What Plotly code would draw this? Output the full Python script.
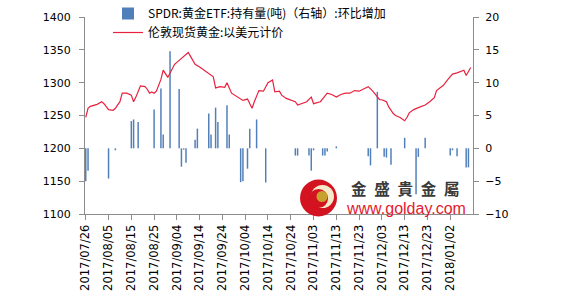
import plotly.graph_objects as go

# ---- data ----
price_dates = ["2017-07-26","2017-07-27","2017-07-28","2017-07-31","2017-08-02","2017-08-03","2017-08-05",
    "2017-08-07","2017-08-08","2017-08-10","2017-08-11","2017-08-13","2017-08-15","2017-08-16","2017-08-17",
    "2017-08-19","2017-08-21","2017-08-22","2017-08-23","2017-08-24","2017-08-25","2017-08-26","2017-08-28",
    "2017-08-29","2017-08-31","2017-09-01","2017-09-03","2017-09-05","2017-09-09","2017-09-10","2017-09-12",
    "2017-09-14","2017-09-17","2017-09-19","2017-09-20","2017-09-21","2017-09-23","2017-09-25","2017-09-26",
    "2017-09-28","2017-09-29","2017-10-01","2017-10-03","2017-10-05","2017-10-07","2017-10-08","2017-10-10",
    "2017-10-12","2017-10-14","2017-10-16","2017-10-17","2017-10-19","2017-10-20","2017-10-22","2017-10-24",
    "2017-10-26","2017-10-27","2017-10-30","2017-10-31","2017-11-02","2017-11-03","2017-11-06","2017-11-07",
    "2017-11-09","2017-11-11","2017-11-13","2017-11-15","2017-11-17","2017-11-19","2017-11-21","2017-11-23",
    "2017-11-25","2017-11-27","2017-11-29","2017-12-01","2017-12-02","2017-12-03","2017-12-05","2017-12-06",
    "2017-12-08","2017-12-09","2017-12-11","2017-12-13","2017-12-14","2017-12-15","2017-12-17","2017-12-19",
    "2017-12-22","2017-12-24","2017-12-26","2017-12-27","2017-12-30","2018-01-01","2018-01-03","2018-01-05",
    "2018-01-07","2018-01-08","2018-01-09","2018-01-10","2018-01-11"]
price_values = [1247,1261,1264,1267,1271,1268,1259,
    1258,1261,1271,1284,1284,1281,1271,1278,
    1295,1294,1290,1284,1286,1284,1287,1305,
    1319,1308,1315,1328,1334,1346,1340,1328,
    1324,1316,1311,1309,1292,1294,1293,1300,
    1284,1282,1277,1273,1275,1261,1271,1288,
    1287,1300,1304,1286,1287,1281,1276,1273,
    1271,1266,1269,1271,1278,1268,1271,1276,
    1284,1282,1278,1282,1284,1284,1288,1287,
    1291,1294,1287,1277,1274,1274,1271,1263,
    1253,1250,1247,1242,1247,1254,1259,1262,
    1266,1271,1277,1288,1296,1305,1313,1315,
    1318,1319,1311,1318,1323]

etf_dates = ["2017-07-26","2017-07-27","2017-08-05","2017-08-08","2017-08-15","2017-08-16","2017-08-18",
    "2017-08-25","2017-08-28","2017-08-29","2017-09-01","2017-09-05","2017-09-06","2017-09-07","2017-09-08",
    "2017-09-12","2017-09-13","2017-09-18","2017-09-19","2017-09-21","2017-09-22","2017-09-26","2017-09-27",
    "2017-10-02","2017-10-03","2017-10-05","2017-10-06","2017-10-09","2017-10-13","2017-10-26","2017-10-27",
    "2017-11-01","2017-11-02","2017-11-03","2017-11-07","2017-11-08","2017-11-09","2017-11-13","2017-11-27",
    "2017-11-28","2017-12-01","2017-12-04","2017-12-05","2017-12-07","2017-12-13","2017-12-18","2017-12-19",
    "2017-12-22","2018-01-02","2018-01-03","2018-01-05","2018-01-09","2018-01-10"]
etf_values = [-5.0,-3.4,-4.6,-0.3,4.15,4.4,4.0,
    5.9,9.1,2.1,14.8,9.05,-2.8,-0.2,-2.2,
    1.3,3.0,5.3,2.1,6.2,4.0,6.55,2.1,
    -5.15,-5.0,-3.1,3.0,4.4,-5.2,-1.1,-1.1,
    -1.1,-3.4,-0.3,-1.1,-1.1,-0.5,0.3,-1.2,
    -2.6,8.6,-1.3,-1.4,-2.5,1.6,-7.0,-1.3,
    1.6,-1.1,-0.3,-1.2,-2.9,-2.9]

tick_dates = ["2017-07-26","2017-08-05","2017-08-15","2017-08-25","2017-09-04","2017-09-14","2017-09-24",
    "2017-10-04","2017-10-14","2017-10-24","2017-11-03","2017-11-13","2017-11-23","2017-12-03","2017-12-13",
    "2017-12-23","2018-01-02"]
tick_text = [d.replace("-", "/") for d in tick_dates]

etf_name = "SPDR:黄金ETF:持有量(吨)（右轴）:环比增加"
price_name = "伦敦现货黄金:以美元计价"
logo_name = "金\u2002盛\u2002貴\u2002金\u2002屬"
logo_url = "www.golday.com"

DAY_MS = 86400000

fig = go.Figure()
fig.add_trace(go.Bar(x=etf_dates, y=etf_values, name=etf_name, yaxis="y",
                     width=0.65 * DAY_MS,
                     marker=dict(color="rgba(79,125,184,0.99)", line=dict(width=0))))
fig.add_trace(go.Scatter(x=price_dates, y=price_values, name=price_name, yaxis="y2",
                         mode="lines", line=dict(color="#E8213F", width=1.2)))

W, H = 563, 298
L, R, T, B = 85, 90, 17, 84
pw, ph = W - L - R, H - T - B

def px(x):
    return (x - L) / pw

def py(y):
    return (H - B - y) / ph

axis_col = "#8C8C8C"
tick_font = dict(family="DejaVu Sans", size=11, color="#000000")

shapes = []
def circle(cx, cy, r, color):
    shapes.append(dict(type="circle", xref="paper", yref="paper", xsizemode="pixel", ysizemode="pixel",
                       xanchor=px(cx), yanchor=py(cy), x0=-r, x1=r, y0=-r, y1=r,
                       fillcolor=color, line=dict(width=0), layer="above"))

circle(318.5, 198, 18.5, "#D3131F")
circle(322.5, 196.5, 11.5, "#F4E9C8")
circle(318.5, 198.5, 9.5, "#D3131F")
circle(322, 196.5, 5.5, "#C9A12E")

annotations = [
    dict(text=logo_name, x=px(405), y=py(187.5), xref="paper", yref="paper", showarrow=False,
         xanchor="center", yanchor="middle", borderpad=0,
         font=dict(family="Noto Sans CJK TC", size=15.5, color="#3A3A3A", weight="bold")),
    dict(text=logo_url, x=px(405.5), y=py(208), xref="paper", yref="paper",
         showarrow=False, xanchor="center", yanchor="middle", borderpad=0,
         font=dict(family="Liberation Sans", size=16, color="#E51A2E")),
]

fig.update_layout(
    width=W, height=H,
    margin=dict(l=L, r=R, t=T, b=B, pad=0, autoexpand=False),
    paper_bgcolor="white", plot_bgcolor="white",
    showlegend=True,
    legend=dict(x=px(108), y=py(-1), xanchor="left", yanchor="top", bgcolor="rgba(0,0,0,0)",
                font=dict(family="Noto Sans CJK SC", size=12, color="#000000"),
                tracegroupgap=0, itemwidth=30, traceorder="normal"),
    bargap=0.2,
    xaxis=dict(type="date", range=["2017-07-25 16:00", "2018-01-12"],
               tickvals=tick_dates, ticktext=tick_text, tickangle=-90, automargin=False,
               showgrid=False, zeroline=False, showline=True, linecolor=axis_col, linewidth=1,
               ticks="outside", ticklen=5, tickcolor=axis_col,
               tickfont=dict(family="DejaVu Sans", size=11.5, color="#000000")),
    yaxis=dict(side="right", range=[-10, 20], dtick=5, showgrid=False, zeroline=False, automargin=False,
               showline=True, linecolor=axis_col, linewidth=1, ticks="outside", ticklen=5,
               tickcolor=axis_col, tickfont=tick_font, ticklabelstandoff=4),
    yaxis2=dict(side="left", overlaying="y", range=[1100, 1400], dtick=50, showgrid=False, automargin=False,
                zeroline=False, showline=True, linecolor=axis_col, linewidth=1, ticks="outside",
                ticklen=5, tickcolor=axis_col, tickfont=tick_font, ticklabelstandoff=6),
    shapes=shapes,
    annotations=annotations,
)

fig.write_html("out.html")
